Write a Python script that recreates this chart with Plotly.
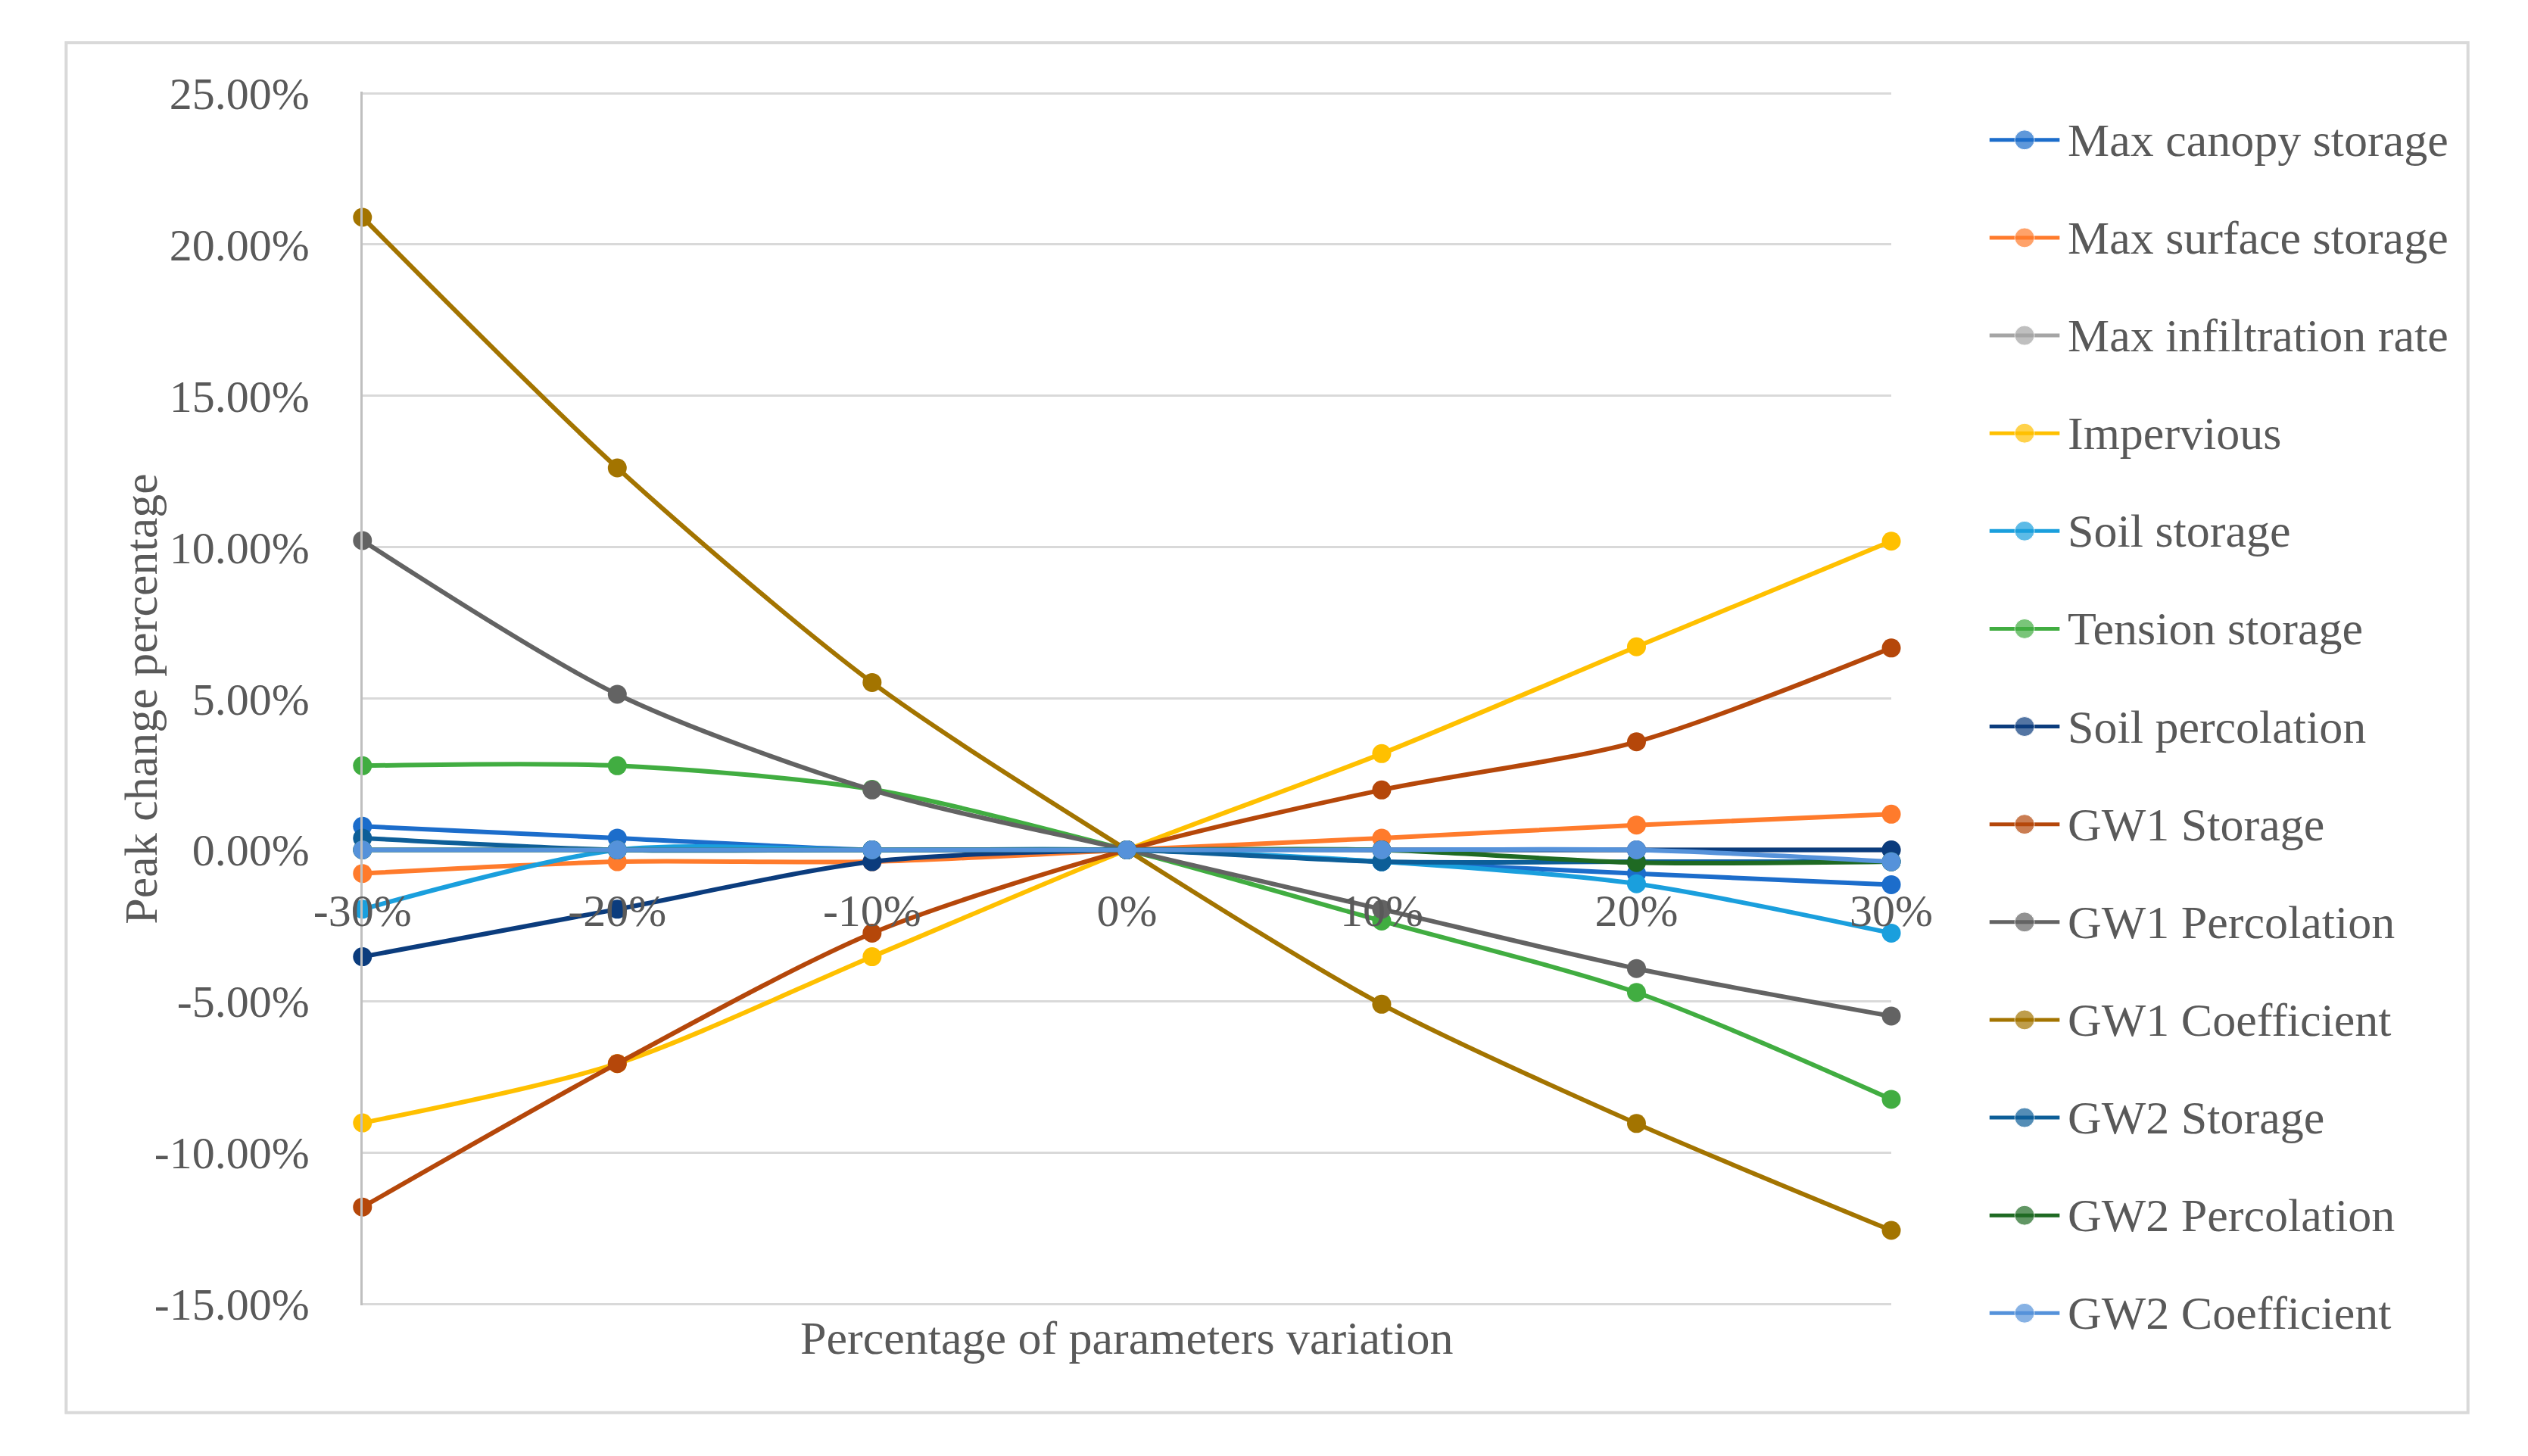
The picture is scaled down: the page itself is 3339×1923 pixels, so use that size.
import plotly.graph_objects as go

# Peak change (%) for each parameter variation
x_labels = ['-30%', '-20%', '-10%', '0%', '10%', '20%', '30%']

max_canopy_storage = [0.78, 0.39, 0.0, 0.0, -0.39, -0.78, -1.15]
max_surface_storage = [-0.78, -0.39, -0.39, 0.0, 0.39, 0.82, 1.18]
max_infiltration_rate = [0.0, 0.0, 0.0, 0.0, 0.0, 0.0, 0.0]
impervious = [-9.02, -7.06, -3.53, 0.0, 3.18, 6.71, 10.20]
soil_storage = [-1.96, 0.0, 0.0, 0.0, -0.39, -1.12, -2.75]
tension_storage = [2.78, 2.78, 2.00, 0.0, -2.35, -4.71, -8.24]
soil_percolation = [-3.53, -1.96, -0.39, 0.0, 0.0, 0.0, 0.0]
gw1_storage = [-11.80, -7.06, -2.75, 0.0, 1.98, 3.57, 6.67]
gw1_percolation = [10.22, 5.14, 1.98, 0.0, -1.96, -3.92, -5.49]
gw1_coefficient = [20.90, 12.62, 5.53, 0.0, -5.10, -9.04, -12.57]
gw2_storage = [0.39, 0.0, 0.0, 0.0, -0.39, -0.39, -0.39]
gw2_percolation = [0.0, 0.0, 0.0, 0.0, 0.0, -0.42, -0.39]
gw2_coefficient = [0.0, 0.0, 0.0, 0.0, 0.0, 0.0, -0.39]

series_names = ['Max canopy storage', 'Max surface storage', 'Max infiltration rate',
                'Impervious', 'Soil storage', 'Tension storage', 'Soil percolation',
                'GW1 Storage', 'GW1 Percolation', 'GW1 Coefficient',
                'GW2 Storage', 'GW2 Percolation', 'GW2 Coefficient']
series_values = [max_canopy_storage, max_surface_storage, max_infiltration_rate,
                 impervious, soil_storage, tension_storage, soil_percolation,
                 gw1_storage, gw1_percolation, gw1_coefficient,
                 gw2_storage, gw2_percolation, gw2_coefficient]
series_colors = ['#1C6DCB', '#FF7B2C', '#A5A5A5', '#FFC000', '#1A9FDD', '#41AD41',
                 '#0B3C7D', '#B5470A', '#636363', '#A37400', '#0D5E98', '#1F6A23',
                 '#5592DA']

y_tick_values = [-15, -10, -5, 0, 5, 10, 15, 20, 25]
y_tick_labels = ['-15.00%', '-10.00%', '-5.00%', '0.00%', '5.00%',
                 '10.00%', '15.00%', '20.00%', '25.00%']

W, H = 3339, 1923
font_name = 'Liberation Serif'
text_gray = '#595959'
grid_gray = '#D9D9D9'

# plot area in pixels -> paper fractions
x_dom = [423 / W, 2528 / W]
y_dom = [1 - 1757 / H, 1 - 87 / H]
y_min, y_max = -15.04, 25.04
zero_pos = y_dom[0] + (0 - y_min) / (y_max - y_min) * (y_dom[1] - y_dom[0])

fig = go.Figure()

for name, vals, col in zip(series_names, series_values, series_colors):
    fig.add_trace(go.Scatter(
        x=x_labels, y=vals, name=name,
        mode='lines+markers',
        line=dict(color=col, width=6, shape='spline', smoothing=0.8),
        marker=dict(color=col, size=25),
        cliponaxis=False, showlegend=False
    ))

# legend drawn on its own small axes
for i, (name, col) in enumerate(zip(series_names, series_colors)):
    fig.add_trace(go.Scatter(
        x=[0, 1, 2], y=[i, i, i],
        mode='lines+markers',
        line=dict(color=col, width=5),
        marker=dict(color=col, size=[0, 26, 0]),
        xaxis='x2', yaxis='y2', cliponaxis=False,
        showlegend=False, hoverinfo='skip'
    ))

legend_notes = [
    dict(text=name, xref='x2', yref='y2', x=2, y=i, xshift=8,
         xanchor='left', yanchor='middle', showarrow=False,
         font=dict(family=font_name, size=62, color=text_gray))
    for i, name in enumerate(series_names)
]

n = len(series_names)
fig.update_layout(
    margin=dict(l=0, r=0, t=0, b=0),
    paper_bgcolor='white', plot_bgcolor='white',
    font=dict(family=font_name, size=60, color=text_gray),
    xaxis=dict(
        type='category', categoryorder='array', categoryarray=x_labels,
        range=[0, len(x_labels) - 1], domain=x_dom,
        anchor='free', position=zero_pos,
        showgrid=False, showline=False, zeroline=False, ticks='',
        ticklabelstandoff=40,
        tickfont=dict(family=font_name, size=60, color=text_gray)
    ),
    yaxis=dict(
        range=[y_min, y_max], domain=y_dom,
        tickvals=y_tick_values, ticktext=y_tick_labels,
        showgrid=True, gridcolor=grid_gray, gridwidth=3,
        zeroline=True, zerolinecolor=grid_gray, zerolinewidth=3,
        showline=True, linecolor='#BFBFBF', linewidth=3,
        ticks='', ticklabelstandoff=55,
        tickfont=dict(family=font_name, size=60, color=text_gray)
    ),
    xaxis2=dict(domain=[2663 / W, 2760 / W], range=[0, 2], anchor='y2',
                visible=False, fixedrange=True),
    yaxis2=dict(domain=[1 - (1768 + 67.3) / H, 1 - (153 - 67.3) / H],
                range=[n - 0.5, -0.5], anchor='x2', visible=False, fixedrange=True),
    annotations=legend_notes + [
        dict(text='Percentage of parameters variation', xref='paper', yref='paper',
             x=(x_dom[0] + x_dom[1]) / 2, y=1 - 1802 / H, showarrow=False,
             xanchor='center', yanchor='middle',
             font=dict(family=font_name, size=62, color=text_gray)),
        dict(text='Peak change percentage', xref='paper', yref='paper',
             x=117 / W, y=(y_dom[0] + y_dom[1]) / 2, showarrow=False, textangle=-90,
             xanchor='center', yanchor='middle',
             font=dict(family=font_name, size=62, color=text_gray)),
    ],
    shapes=[
        dict(type='rect', xref='paper', yref='paper',
             x0=15 / W, x1=3322 / W, y0=1 - 1905 / H, y1=1 - 19 / H,
             line=dict(color=grid_gray, width=4), fillcolor='rgba(0,0,0,0)',
             layer='below')
    ]
)

fig.write_html("out.html")
